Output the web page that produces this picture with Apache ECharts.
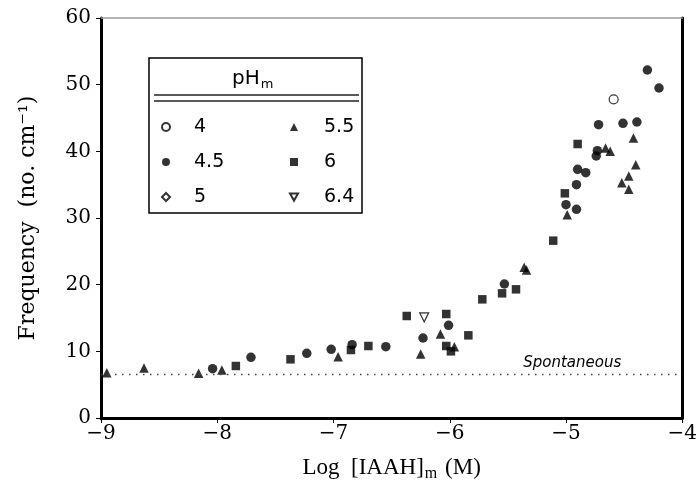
<!DOCTYPE html>
<html>
<head>
<meta charset="utf-8">
<script src="https://cdn.jsdelivr.net/npm/echarts@6/dist/echarts.min.js"></script>
<style>
  html, body { margin: 0; padding: 0; background: #fff; }
  #chart { width: 700px; height: 494px; }
</style>
</head>
<body>
<div id="chart"></div>
<script>
// Frequency of events versus log IAAH concentration, grouped by pH_m.
// Each point: [log10 concentration (M), frequency (no. per cm)]
var phNames = ['4', '4.5', '5', '5.5', '6', '6.4'];

var ph40 = [[-4.59, 47.8]];

var ph45 = [
  [-8.04, 7.4], [-7.71, 9.1], [-7.23, 9.7], [-7.02, 10.3], [-6.84, 11.0],
  [-6.55, 10.7], [-6.23, 12.0], [-6.01, 13.9], [-5.53, 20.1], [-5.00, 32.0],
  [-4.91, 31.3], [-4.91, 35.0], [-4.90, 37.3], [-4.83, 36.8], [-4.73, 40.1],
  [-4.74, 39.3], [-4.72, 44.0], [-4.51, 44.2], [-4.39, 44.4], [-4.30, 52.2],
  [-4.20, 49.5]
];

var ph50 = [];

var ph55 = [
  [-8.95, 6.8], [-8.63, 7.5], [-8.16, 6.7], [-7.96, 7.2], [-6.96, 9.2],
  [-6.25, 9.6], [-6.08, 12.6], [-5.96, 10.7], [-5.36, 22.6], [-5.34, 22.2],
  [-4.99, 30.5], [-4.66, 40.5], [-4.62, 40.0], [-4.42, 42.0], [-4.40, 38.0],
  [-4.46, 36.3], [-4.52, 35.3], [-4.46, 34.3]
];

var ph60 = [
  [-7.84, 7.8], [-7.37, 8.8], [-6.85, 10.2], [-6.70, 10.8], [-6.37, 15.3],
  [-6.03, 15.6], [-6.03, 10.8], [-5.99, 10.0], [-5.84, 12.4], [-5.72, 17.8],
  [-5.55, 18.7], [-5.43, 19.3], [-5.11, 26.6], [-5.01, 33.7], [-4.90, 41.1]
];

var ph64 = [[-6.22, 15.1]];

// Baseline frequency without added IAAH
var spontaneousLevel = 6.6;

var INK = '#000';
var serif = 'DejaVu Serif';
var downTriangle = 'path://M0,0 L10,0 L5,9 Z';

function scatter(name, data, symbol, size, open) {
  return {
    name: name,
    type: 'scatter',
    data: data,
    symbol: symbol,
    symbolSize: size,
    itemStyle: open
      ? { color: '#fff', borderColor: INK, borderWidth: 1.2 }
      : { color: INK, borderColor: INK, borderWidth: 0 },
    emphasis: { disabled: true },
    z: 3
  };
}

var series = [
  scatter(phNames[0], ph40, 'circle', 9, true),
  scatter(phNames[1], ph45, 'circle', 9.5, false),
  scatter(phNames[2], ph50, 'diamond', 7, true),
  scatter(phNames[3], ph55, 'triangle', 9.5, false),
  scatter(phNames[4], ph60, 'rect', 8.5, false),
  scatter(phNames[5], ph64, downTriangle, 9, true)
];

series[1].markLine = {
  silent: true,
  symbol: 'none',
  lineStyle: { color: '#444', type: [1.5, 5.5], width: 1.3 },
  label: {
    show: true,
    formatter: 'Spontaneous',
    position: 'insideEndTop',
    fontFamily: 'DejaVu Sans',
    fontStyle: 'italic',
    fontSize: 15,
    color: INK,
    padding: [0, 58, 0, 0],
    distance: 3
  },
  data: [{ yAxis: spontaneousLevel }]
};

var legendText = {
  fontFamily: 'DejaVu Sans',
  fontSize: 19,
  color: INK,
  lineHeight: 20
};

var chart = echarts.init(document.getElementById('chart'), null, { renderer: 'canvas' });

chart.setOption({
  animation: false,
  backgroundColor: '#fff',
  grid: { left: 101, right: 15, top: 18, bottom: 76 },
  legend: [
    {
      data: phNames.slice(0, 3),
      orient: 'vertical',
      left: 156, top: 112,
      itemWidth: 8, itemHeight: 8, itemGap: 15,
      selectedMode: false,
      textStyle: Object.assign({ padding: [0, 0, 0, 19] }, legendText)
    },
    {
      data: phNames.slice(3),
      orient: 'vertical',
      left: 284, top: 112,
      itemWidth: 8, itemHeight: 8, itemGap: 15,
      selectedMode: false,
      textStyle: Object.assign({ padding: [0, 0, 0, 21] }, legendText)
    }
  ],
  graphic: [
    {
      type: 'rect', z: 10, silent: true,
      shape: { x: 149, y: 58, width: 213, height: 155 },
      style: { fill: 'none', stroke: INK, lineWidth: 1.5 }
    },
    {
      type: 'line', z: 10, silent: true,
      shape: { x1: 154, y1: 95, x2: 359, y2: 95 },
      style: { stroke: '#222', lineWidth: 1.5 }
    },
    {
      type: 'line', z: 10, silent: true,
      shape: { x1: 154, y1: 101, x2: 359, y2: 101 },
      style: { stroke: '#222', lineWidth: 1.5 }
    },
    {
      type: 'text', z: 10, silent: true,
      left: 232, top: 69,
      style: {
        text: '{a|pH}{b|m}',
        rich: {
          a: { fontFamily: 'DejaVu Sans', fontSize: 20, fill: INK },
          b: { fontFamily: 'DejaVu Sans', fontSize: 13, fill: INK, padding: [11, 0, 0, 1] }
        }
      }
    }
  ],
  xAxis: [
    {
      type: 'value',
      position: 'bottom',
      min: -9, max: -4, interval: 1,
      axisLine: { show: true, onZero: false, lineStyle: { color: INK, width: 3 } },
      axisTick: { show: true, length: 5, lineStyle: { color: INK, width: 1 } },
      splitLine: { show: false },
      axisLabel: {
        formatter: function (v) { return v < 0 ? '\u2212' + Math.abs(v) : String(v); },
        fontFamily: serif, fontSize: 20, color: INK, margin: 6
      },
      name: '{t|Log  [IAAH]}{s|m}{t| (M)}',
      nameLocation: 'middle',
      nameGap: 36,
      nameTextStyle: {
        rich: {
          t: { fontFamily: 'Liberation Serif', fontSize: 23, color: INK },
          s: { fontFamily: 'Liberation Serif', fontSize: 16, color: INK, padding: [12, 2, 0, 1] }
        }
      }
    },
    {
      type: 'value',
      position: 'top',
      min: -9, max: -4,
      axisLine: { show: true, onZero: false, lineStyle: { color: '#9a9a9a', width: 1.5 } },
      axisTick: { show: false },
      axisLabel: { show: false },
      splitLine: { show: false }
    }
  ],
  yAxis: [
    {
      type: 'value',
      position: 'left',
      min: 0, max: 60, interval: 10,
      axisLine: { show: true, onZero: false, lineStyle: { color: INK, width: 3 } },
      axisTick: { show: true, length: 5, lineStyle: { color: INK, width: 1 } },
      splitLine: { show: false },
      axisLabel: { fontFamily: serif, fontSize: 20, color: INK, margin: 10 },
      name: 'Frequency  (no. cm\u207B\u00B9)',
      nameLocation: 'middle',
      nameGap: 62,
      nameTextStyle: { fontFamily: serif, fontSize: 22, color: INK }
    },
    {
      type: 'value',
      position: 'right',
      min: 0, max: 60,
      axisLine: { show: true, onZero: false, lineStyle: { color: INK, width: 3 } },
      axisTick: { show: false },
      axisLabel: { show: false },
      splitLine: { show: false }
    }
  ],
  series: series
});
</script>
</body>
</html>
